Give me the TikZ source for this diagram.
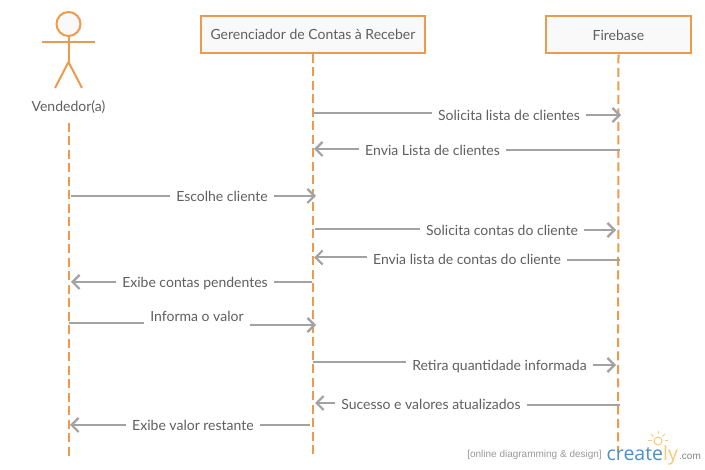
\documentclass[tikz,border=0pt]{standalone}
\usepackage{fontspec}
\setmainfont{Lato}
\newfontfamily\logofont{Open Sans}
\newfontfamily\tagfont{Liberation Sans}
\usetikzlibrary{arrows.meta}
\definecolor{orangeline}{HTML}{EE9A4D}
\definecolor{greyline}{HTML}{A3A1A1}
\definecolor{textgrey}{HTML}{5F5F5F}
\definecolor{boxfill}{HTML}{F9F9F9}
\definecolor{logoblue}{HTML}{4A90C8}
\definecolor{logoyellow}{HTML}{F8C878}
\tikzset{
  x=1pt,y=-1pt,
  lifebox/.style={draw=orangeline,line width=2pt,fill=boxfill,minimum height=37pt,inner sep=0pt,text=textgrey,font=\fontsize{14}{16}\selectfont},
  lifeline/.style={draw=orangeline,line width=2pt,dash pattern=on 9pt off 4.5pt},
  actorline/.style={draw=orangeline,line width=2pt},
  msg/.style={draw=greyline,line width=2pt},
  msgarrow/.style={msg,-{Straight Barb[length=7pt,width=14pt,line width=2.2pt]}},
  lbl/.style={inner ysep=0pt,inner xsep=0pt,outer xsep=6pt,outer ysep=0pt,text=textgrey,font=\fontsize{14}{16}\selectfont,anchor=center,text height=16pt,text depth=4pt},
}
\begin{document}
\begin{tikzpicture}
\useasboundingbox (0,0) rectangle (705,470);
\fill[white] (0,0) rectangle (705,470);
% boxes
\node[lifebox,minimum width=224pt] (ger) at (313,34.5) {Gerenciador de Contas à Receber};
\node[lifebox,minimum width=145pt] (fb) at (618.5,35) {Firebase};
% actor
\node[draw=orangeline,line width=2pt,fill=boxfill,circle,minimum size=24pt,inner sep=0pt] (head) at (68.5,24) {};
\coordinate (hip) at (68.5,62);
\coordinate (armL) at (42,42);
\coordinate (armR) at (95,42);
\coordinate (legL) at (55,88);
\coordinate (legR) at (82,88);
\draw[actorline] (head.south) -- (hip);
\draw[actorline] (armL) -- (armR);
\draw[actorline] (legL) -- (hip) -- (legR);
\node[lbl] (act) at (68.5,106) {Vendedor(a)};
% lifelines
\coordinate (aTop) at (68.5,123);
\coordinate (aEnd) at (68.5,460);
\coordinate (gEnd) at (313,458);
\coordinate (fEnd) at (618,452);
\draw[lifeline] (aTop) -- (aEnd);
\draw[lifeline] (ger.south) -- (gEnd);
\draw[lifeline] (fb.south) -- (fEnd);
% messages
\coordinate (m1a) at (313,113.5); \node[lbl] (m1) at (509,115) {Solicita lista de clientes}; \coordinate (m1b) at (621,115);
\draw[msg] (m1a) -- (m1.west |- m1a); \draw[msgarrow] (m1.east |- m1b) -- (m1b);
\coordinate (m2a) at (620,150); \node[lbl] (m2) at (432.5,150) {Envia Lista de clientes}; \coordinate (m2b) at (314,149);
\draw[msg] (m2a) -- (m2.east |- m2a); \draw[msgarrow] (m2.west |- m2b) -- (m2b);
\coordinate (m3a) at (71,196); \node[lbl] (m3) at (222,196) {Escolhe cliente}; \coordinate (m3b) at (316,196);
\draw[msg] (m3a) -- (m3.west |- m3a); \draw[msgarrow] (m3.east |- m3b) -- (m3b);
\coordinate (m4a) at (315,229.5); \node[lbl] (m4) at (502,230) {Solicita contas do cliente}; \coordinate (m4b) at (616,230);
\draw[msg] (m4a) -- (m4.west |- m4a); \draw[msgarrow] (m4.east |- m4b) -- (m4b);
\coordinate (m5a) at (620,260); \node[lbl] (m5) at (467,259) {Envia lista de contas do cliente}; \coordinate (m5b) at (314,257.5);
\draw[msg] (m5a) -- (m5.east |- m5a); \draw[msgarrow] (m5.west |- m5b) -- (m5b);
\coordinate (m6a) at (312,282); \node[lbl] (m6) at (195,282) {Exibe contas pendentes}; \coordinate (m6b) at (71,282);
\draw[msg] (m6a) -- (m6.east |- m6a); \draw[msgarrow] (m6.west |- m6b) -- (m6b);
\coordinate (m7a) at (69,323.5); \node[lbl] (m7) at (197,316) {Informa o valor}; \coordinate (m7b) at (316,325);
\draw[msg] (m7a) -- (m7.west |- m7a); \draw[msgarrow] (m7.east |- m7b) -- (m7b);
\coordinate (m8a) at (313,362.5); \node[lbl] (m8) at (499.5,365) {Retira quantidade informada}; \coordinate (m8b) at (616,365);
\draw[msg] (m8a) -- (m8.west |- m8a); \draw[msgarrow] (m8.east |- m8b) -- (m8b);
\coordinate (m9a) at (620,405); \node[lbl] (m9) at (431,404) {Sucesso e valores atualizados}; \coordinate (m9b) at (315,403);
\draw[msg] (m9a) -- (m9.east |- m9a); \draw[msgarrow] (m9.west |- m9b) -- (m9b);
\coordinate (m10a) at (310,425); \node[lbl] (m10) at (193,425) {Exibe valor restante}; \coordinate (m10b) at (70,425);
\draw[msg] (m10a) -- (m10.east |- m10a); \draw[msgarrow] (m10.west |- m10b) -- (m10b);
% logo
\node[draw=logoyellow,line width=1pt,circle,minimum size=8pt,inner sep=0pt,fill=white] (bulb) at (658,441) {};
\foreach \a in {180,225,270,315,0}{\draw[logoyellow,line width=1pt] (bulb) ++(\a:-6.5pt) -- ++(\a:-3.5pt);}
\node[inner sep=0pt,anchor=east,text=gray!80,font=\tagfont\fontsize{10}{12}\selectfont] (tag) at (602,454.5) {[online diagramming \& design]};
\node[inner sep=0pt,anchor=base west,font=\logofont\fontsize{19.5}{22}\selectfont] (logo) at (606.5,460.5) {\textcolor{logoblue}{create}\textcolor{logoyellow}{l}\textcolor{logoyellow}{y}};
\node[inner sep=0pt,anchor=base west,text=gray,font=\tagfont\fontsize{10}{12}\selectfont] (com) at (679,459.5) {.com};
\end{tikzpicture}
\end{document}
